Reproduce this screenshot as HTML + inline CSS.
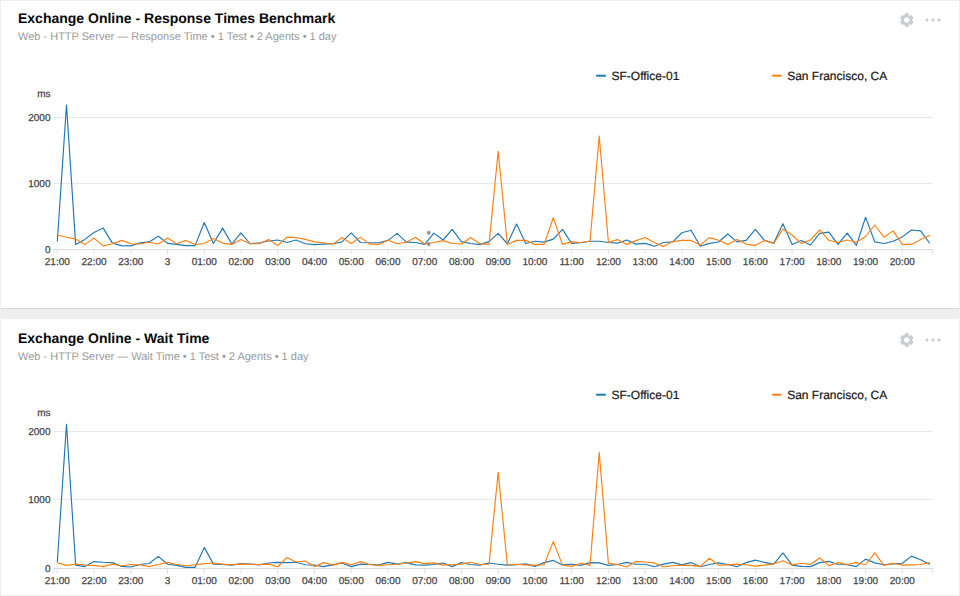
<!DOCTYPE html>
<html><head><meta charset="utf-8"><title>Dashboard</title>
<style>
html,body{margin:0;padding:0}
body{width:960px;height:596px;background:#eeeeee;position:relative;overflow:hidden;font-family:"Liberation Sans",sans-serif}
.p{position:absolute;left:1px;width:958px;background:#fff}
#p1{top:1px;height:307px;border-bottom:1px solid #d9d9d9}
#p2{top:319px;height:276px}
svg{position:absolute;left:0;top:0}
text{font-family:"Liberation Sans",sans-serif;text-rendering:geometricPrecision}
.title{font-size:14px;font-weight:bold;fill:#080808}
.sub{font-size:11px;fill:#999}
.tick{font-size:10px;fill:#444;stroke:#444;stroke-width:.25px}
.leg{font-size:12px;fill:#151515;stroke:#151515;stroke-width:.2px}
.grid{stroke:#e6e6e6;stroke-width:1}
.axis{stroke:#dadada;stroke-width:1;fill:none}
.tk{stroke:#e0e0e0;stroke-width:1;fill:none}
.ln{fill:none;stroke-width:1.15;stroke-linejoin:round}
</style></head><body>
<div class="p" id="p1"></div>
<div class="p" id="p2"></div>
<svg width="960" height="596" viewBox="0 0 960 596">
<text x="18" y="23.00" class="title">Exchange Online - Response Times Benchmark</text>
<text x="18" y="40.00" class="sub">Web - HTTP Server — Response Time • 1 Test • 2 Agents • 1 day</text>
<g transform="translate(906.80,20.00)" fill="#c6ccd1"><path fill-rule="evenodd" d="M-2.06,-4.88L-1.87,-6.75L1.87,-6.75L2.06,-4.88L3.20,-4.23L4.91,-4.99L6.78,-1.76L5.26,-0.65L5.26,0.65L6.78,1.76L4.91,4.99L3.20,4.23L2.06,4.88L1.87,6.75L-1.87,6.75L-2.06,4.88L-3.20,4.23L-4.91,4.99L-6.78,1.76L-5.26,0.65L-5.26,-0.65L-6.78,-1.76L-4.91,-4.99L-3.20,-4.23ZM2.70,0A2.70,2.70 0 1,0 -2.70,0A2.70,2.70 0 1,0 2.70,0Z"/></g>
<circle cx="927.00" cy="20.00" r="1.5" fill="#c6cacd"/>
<circle cx="933.00" cy="20.00" r="1.5" fill="#c6cacd"/>
<circle cx="939.00" cy="20.00" r="1.5" fill="#c6cacd"/>
<line x1="54" x2="932.7" y1="183.40" y2="183.40" class="grid"/>
<line x1="54" x2="932.7" y1="117.40" y2="117.40" class="grid"/>
<path d="M53.3,249.50H933.2" class="axis"/>
<path d="M53.8,249.50V254.50M932.7,249.50V254.50" class="tk"/>
<line x1="57.30" x2="57.30" y1="249.50" y2="254.50" class="tk"/>
<text x="57.30" y="265.10" class="tick" text-anchor="middle">21:00</text>
<line x1="94.04" x2="94.04" y1="249.50" y2="254.50" class="tk"/>
<text x="94.04" y="265.10" class="tick" text-anchor="middle">22:00</text>
<line x1="130.78" x2="130.78" y1="249.50" y2="254.50" class="tk"/>
<text x="130.78" y="265.10" class="tick" text-anchor="middle">23:00</text>
<line x1="167.52" x2="167.52" y1="249.50" y2="254.50" class="tk"/>
<text x="167.52" y="265.10" class="tick" text-anchor="middle">3</text>
<line x1="204.26" x2="204.26" y1="249.50" y2="254.50" class="tk"/>
<text x="204.26" y="265.10" class="tick" text-anchor="middle">01:00</text>
<line x1="241.00" x2="241.00" y1="249.50" y2="254.50" class="tk"/>
<text x="241.00" y="265.10" class="tick" text-anchor="middle">02:00</text>
<line x1="277.74" x2="277.74" y1="249.50" y2="254.50" class="tk"/>
<text x="277.74" y="265.10" class="tick" text-anchor="middle">03:00</text>
<line x1="314.48" x2="314.48" y1="249.50" y2="254.50" class="tk"/>
<text x="314.48" y="265.10" class="tick" text-anchor="middle">04:00</text>
<line x1="351.22" x2="351.22" y1="249.50" y2="254.50" class="tk"/>
<text x="351.22" y="265.10" class="tick" text-anchor="middle">05:00</text>
<line x1="387.96" x2="387.96" y1="249.50" y2="254.50" class="tk"/>
<text x="387.96" y="265.10" class="tick" text-anchor="middle">06:00</text>
<line x1="424.70" x2="424.70" y1="249.50" y2="254.50" class="tk"/>
<text x="424.70" y="265.10" class="tick" text-anchor="middle">07:00</text>
<line x1="461.44" x2="461.44" y1="249.50" y2="254.50" class="tk"/>
<text x="461.44" y="265.10" class="tick" text-anchor="middle">08:00</text>
<line x1="498.18" x2="498.18" y1="249.50" y2="254.50" class="tk"/>
<text x="498.18" y="265.10" class="tick" text-anchor="middle">09:00</text>
<line x1="534.92" x2="534.92" y1="249.50" y2="254.50" class="tk"/>
<text x="534.92" y="265.10" class="tick" text-anchor="middle">10:00</text>
<line x1="571.66" x2="571.66" y1="249.50" y2="254.50" class="tk"/>
<text x="571.66" y="265.10" class="tick" text-anchor="middle">11:00</text>
<line x1="608.40" x2="608.40" y1="249.50" y2="254.50" class="tk"/>
<text x="608.40" y="265.10" class="tick" text-anchor="middle">12:00</text>
<line x1="645.14" x2="645.14" y1="249.50" y2="254.50" class="tk"/>
<text x="645.14" y="265.10" class="tick" text-anchor="middle">13:00</text>
<line x1="681.88" x2="681.88" y1="249.50" y2="254.50" class="tk"/>
<text x="681.88" y="265.10" class="tick" text-anchor="middle">14:00</text>
<line x1="718.62" x2="718.62" y1="249.50" y2="254.50" class="tk"/>
<text x="718.62" y="265.10" class="tick" text-anchor="middle">15:00</text>
<line x1="755.36" x2="755.36" y1="249.50" y2="254.50" class="tk"/>
<text x="755.36" y="265.10" class="tick" text-anchor="middle">16:00</text>
<line x1="792.10" x2="792.10" y1="249.50" y2="254.50" class="tk"/>
<text x="792.10" y="265.10" class="tick" text-anchor="middle">17:00</text>
<line x1="828.84" x2="828.84" y1="249.50" y2="254.50" class="tk"/>
<text x="828.84" y="265.10" class="tick" text-anchor="middle">18:00</text>
<line x1="865.58" x2="865.58" y1="249.50" y2="254.50" class="tk"/>
<text x="865.58" y="265.10" class="tick" text-anchor="middle">19:00</text>
<line x1="902.32" x2="902.32" y1="249.50" y2="254.50" class="tk"/>
<text x="902.32" y="265.10" class="tick" text-anchor="middle">20:00</text>
<text x="50.5" y="252.70" class="tick" text-anchor="end">0</text>
<text x="50.5" y="186.60" class="tick" text-anchor="end">1000</text>
<text x="50.5" y="120.60" class="tick" text-anchor="end">2000</text>
<text x="50.5" y="97.20" class="tick" text-anchor="end">ms</text>
<path d="M57.30,241.50L66.48,105.10L75.67,244.60L84.85,239.40L94.04,232.50L103.22,228.10L112.41,243.10L121.59,245.60L130.78,245.90L139.97,242.75L149.15,241.90L158.34,236.25L167.52,243.40L176.70,244.40L185.89,245.60L195.07,245.60L204.26,222.50L213.44,243.50L222.63,228.10L231.81,244.10L241.00,232.90L250.19,243.75L259.37,242.75L268.56,241.00L277.74,240.00L286.93,242.50L296.11,240.00L305.30,243.75L314.48,244.60L323.67,244.10L332.85,243.75L342.04,241.90L351.22,232.90L360.41,242.50L369.59,242.75L378.78,242.75L387.96,240.40L397.15,233.40L406.33,242.10L415.52,242.50L424.70,244.40L433.89,233.10L443.07,240.00L452.26,229.40L461.44,241.60L470.63,243.50L479.81,244.60L489.00,241.60L498.18,233.40L507.37,243.75L516.55,224.00L525.74,243.50L534.92,241.25L544.11,242.10L553.29,239.10L562.48,229.40L571.66,243.40L580.85,242.75L590.03,241.25L599.22,241.25L608.40,242.50L617.59,243.10L626.77,240.00L635.96,244.10L645.14,243.40L654.32,246.25L663.51,242.50L672.69,241.90L681.88,232.75L691.06,230.25L700.25,246.25L709.43,243.40L718.62,242.00L727.80,234.00L736.99,241.90L746.17,240.40L755.36,229.40L764.54,240.40L773.73,243.10L782.91,223.75L792.10,244.60L801.28,240.40L810.47,245.00L819.65,233.40L828.84,232.10L838.02,244.40L847.21,233.10L856.39,245.40L865.58,217.25L874.76,241.90L883.95,243.50L893.13,241.25L902.32,236.90L911.50,230.00L920.69,230.90L929.88,243.50" class="ln" stroke="#1f77b4"/>
<path d="M57.30,235.00L66.48,237.25L75.67,239.10L84.85,244.60L94.04,238.10L103.22,245.90L112.41,243.75L121.59,240.40L130.78,243.75L139.97,244.00L149.15,242.25L158.34,244.00L167.52,238.00L176.70,243.75L185.89,240.40L195.07,244.60L204.26,243.50L213.44,238.40L222.63,243.10L231.81,244.40L241.00,239.40L250.19,243.75L259.37,243.75L268.56,239.40L277.74,245.50L286.93,237.10L296.11,237.50L305.30,239.40L314.48,241.90L323.67,242.75L332.85,244.40L342.04,237.50L351.22,243.50L360.41,237.10L369.59,244.10L378.78,244.40L387.96,240.20L397.15,243.75L406.33,242.25L415.52,237.25L424.70,244.00L433.89,242.50L443.07,240.60L452.26,243.50L461.44,244.00L470.63,237.50L479.81,243.75L489.00,244.40L498.18,151.20L507.37,244.40L516.55,240.40L525.74,240.40L534.92,244.40L544.11,244.40L553.29,217.75L562.48,244.40L571.66,241.90L580.85,242.50L590.03,241.00L599.22,136.10L608.40,242.25L617.59,239.60L626.77,244.40L635.96,240.60L645.14,237.50L654.32,242.50L663.51,246.60L672.69,241.60L681.88,240.40L691.06,240.40L700.25,245.00L709.43,237.60L718.62,240.30L727.80,244.40L736.99,239.60L746.17,244.10L755.36,245.40L764.54,240.40L773.73,243.50L782.91,229.00L792.10,235.00L801.28,243.40L810.47,240.00L819.65,229.80L828.84,240.30L838.02,242.50L847.21,240.00L856.39,242.25L865.58,236.50L874.76,225.00L883.95,237.25L893.13,230.90L902.32,244.40L911.50,244.40L920.69,239.60L929.88,235.25" class="ln" stroke="#ff7f0e"/>
<circle cx="428.75" cy="232.75" r="1.9" fill="#939393"/>
<circle cx="428.75" cy="244.00" r="1.9" fill="#939393"/>
<line x1="596.2" x2="605.8" y1="75.70" y2="75.70" stroke="#1f77b4" stroke-width="2"/>
<text x="611.5" y="79.70" class="leg">SF-Office-01</text>
<line x1="772.2" x2="781.5" y1="75.70" y2="75.70" stroke="#ff7f0e" stroke-width="2"/>
<text x="787.2" y="79.70" class="leg">San Francisco, CA</text>
<text x="18" y="343.00" class="title">Exchange Online - Wait Time</text>
<text x="18" y="360.00" class="sub">Web - HTTP Server — Wait Time • 1 Test • 2 Agents • 1 day</text>
<g transform="translate(906.80,340.00)" fill="#c6ccd1"><path fill-rule="evenodd" d="M-2.06,-4.88L-1.87,-6.75L1.87,-6.75L2.06,-4.88L3.20,-4.23L4.91,-4.99L6.78,-1.76L5.26,-0.65L5.26,0.65L6.78,1.76L4.91,4.99L3.20,4.23L2.06,4.88L1.87,6.75L-1.87,6.75L-2.06,4.88L-3.20,4.23L-4.91,4.99L-6.78,1.76L-5.26,0.65L-5.26,-0.65L-6.78,-1.76L-4.91,-4.99L-3.20,-4.23ZM2.70,0A2.70,2.70 0 1,0 -2.70,0A2.70,2.70 0 1,0 2.70,0Z"/></g>
<circle cx="927.00" cy="340.00" r="1.5" fill="#c6cacd"/>
<circle cx="933.00" cy="340.00" r="1.5" fill="#c6cacd"/>
<circle cx="939.00" cy="340.00" r="1.5" fill="#c6cacd"/>
<line x1="54" x2="932.7" y1="499.45" y2="499.45" class="grid"/>
<line x1="54" x2="932.7" y1="431.40" y2="431.40" class="grid"/>
<path d="M53.3,568.50H933.2" class="axis"/>
<path d="M53.8,568.50V573.50M932.7,568.50V573.50" class="tk"/>
<line x1="57.30" x2="57.30" y1="568.50" y2="573.50" class="tk"/>
<text x="57.30" y="584.10" class="tick" text-anchor="middle">21:00</text>
<line x1="94.04" x2="94.04" y1="568.50" y2="573.50" class="tk"/>
<text x="94.04" y="584.10" class="tick" text-anchor="middle">22:00</text>
<line x1="130.78" x2="130.78" y1="568.50" y2="573.50" class="tk"/>
<text x="130.78" y="584.10" class="tick" text-anchor="middle">23:00</text>
<line x1="167.52" x2="167.52" y1="568.50" y2="573.50" class="tk"/>
<text x="167.52" y="584.10" class="tick" text-anchor="middle">3</text>
<line x1="204.26" x2="204.26" y1="568.50" y2="573.50" class="tk"/>
<text x="204.26" y="584.10" class="tick" text-anchor="middle">01:00</text>
<line x1="241.00" x2="241.00" y1="568.50" y2="573.50" class="tk"/>
<text x="241.00" y="584.10" class="tick" text-anchor="middle">02:00</text>
<line x1="277.74" x2="277.74" y1="568.50" y2="573.50" class="tk"/>
<text x="277.74" y="584.10" class="tick" text-anchor="middle">03:00</text>
<line x1="314.48" x2="314.48" y1="568.50" y2="573.50" class="tk"/>
<text x="314.48" y="584.10" class="tick" text-anchor="middle">04:00</text>
<line x1="351.22" x2="351.22" y1="568.50" y2="573.50" class="tk"/>
<text x="351.22" y="584.10" class="tick" text-anchor="middle">05:00</text>
<line x1="387.96" x2="387.96" y1="568.50" y2="573.50" class="tk"/>
<text x="387.96" y="584.10" class="tick" text-anchor="middle">06:00</text>
<line x1="424.70" x2="424.70" y1="568.50" y2="573.50" class="tk"/>
<text x="424.70" y="584.10" class="tick" text-anchor="middle">07:00</text>
<line x1="461.44" x2="461.44" y1="568.50" y2="573.50" class="tk"/>
<text x="461.44" y="584.10" class="tick" text-anchor="middle">08:00</text>
<line x1="498.18" x2="498.18" y1="568.50" y2="573.50" class="tk"/>
<text x="498.18" y="584.10" class="tick" text-anchor="middle">09:00</text>
<line x1="534.92" x2="534.92" y1="568.50" y2="573.50" class="tk"/>
<text x="534.92" y="584.10" class="tick" text-anchor="middle">10:00</text>
<line x1="571.66" x2="571.66" y1="568.50" y2="573.50" class="tk"/>
<text x="571.66" y="584.10" class="tick" text-anchor="middle">11:00</text>
<line x1="608.40" x2="608.40" y1="568.50" y2="573.50" class="tk"/>
<text x="608.40" y="584.10" class="tick" text-anchor="middle">12:00</text>
<line x1="645.14" x2="645.14" y1="568.50" y2="573.50" class="tk"/>
<text x="645.14" y="584.10" class="tick" text-anchor="middle">13:00</text>
<line x1="681.88" x2="681.88" y1="568.50" y2="573.50" class="tk"/>
<text x="681.88" y="584.10" class="tick" text-anchor="middle">14:00</text>
<line x1="718.62" x2="718.62" y1="568.50" y2="573.50" class="tk"/>
<text x="718.62" y="584.10" class="tick" text-anchor="middle">15:00</text>
<line x1="755.36" x2="755.36" y1="568.50" y2="573.50" class="tk"/>
<text x="755.36" y="584.10" class="tick" text-anchor="middle">16:00</text>
<line x1="792.10" x2="792.10" y1="568.50" y2="573.50" class="tk"/>
<text x="792.10" y="584.10" class="tick" text-anchor="middle">17:00</text>
<line x1="828.84" x2="828.84" y1="568.50" y2="573.50" class="tk"/>
<text x="828.84" y="584.10" class="tick" text-anchor="middle">18:00</text>
<line x1="865.58" x2="865.58" y1="568.50" y2="573.50" class="tk"/>
<text x="865.58" y="584.10" class="tick" text-anchor="middle">19:00</text>
<line x1="902.32" x2="902.32" y1="568.50" y2="573.50" class="tk"/>
<text x="902.32" y="584.10" class="tick" text-anchor="middle">20:00</text>
<text x="50.5" y="571.70" class="tick" text-anchor="end">0</text>
<text x="50.5" y="502.65" class="tick" text-anchor="end">1000</text>
<text x="50.5" y="434.60" class="tick" text-anchor="end">2000</text>
<text x="50.5" y="416.20" class="tick" text-anchor="end">ms</text>
<path d="M57.30,562.00L66.48,424.20L75.67,565.10L84.85,566.60L94.04,561.60L103.22,562.25L112.41,562.60L121.59,566.40L130.78,567.00L139.97,564.50L149.15,563.50L158.34,556.40L167.52,564.25L176.70,565.40L185.89,567.40L195.07,567.40L204.26,547.40L213.44,564.10L222.63,564.50L231.81,565.10L241.00,563.60L250.19,564.10L259.37,564.90L268.56,563.00L277.74,562.40L286.93,562.60L296.11,562.25L305.30,564.75L314.48,565.10L323.67,566.60L332.85,564.90L342.04,563.00L351.22,566.60L360.41,564.10L369.59,564.50L378.78,565.10L387.96,562.40L397.15,564.10L406.33,562.60L415.52,564.90L424.70,565.10L433.89,564.50L443.07,563.00L452.26,566.60L461.44,562.60L470.63,564.50L479.81,565.10L489.00,563.00L498.18,564.25L507.37,565.10L516.55,564.75L525.74,563.90L534.92,566.40L544.11,562.60L553.29,560.40L562.48,564.90L571.66,564.25L580.85,565.40L590.03,562.60L599.22,562.90L608.40,565.40L617.59,564.50L626.77,562.40L635.96,564.25L645.14,564.25L654.32,566.75L663.51,564.10L672.69,562.40L681.88,564.90L691.06,562.60L700.25,566.75L709.43,564.50L718.62,562.90L727.80,564.50L736.99,566.75L746.17,562.60L755.36,560.10L764.54,562.40L773.73,564.10L782.91,552.90L792.10,565.10L801.28,566.40L810.47,566.60L819.65,562.60L828.84,561.40L838.02,564.50L847.21,564.75L856.39,566.60L865.58,559.10L874.76,562.90L883.95,564.75L893.13,563.90L902.32,563.25L911.50,556.10L920.69,559.75L929.88,564.50" class="ln" stroke="#1f77b4"/>
<path d="M57.30,562.60L66.48,565.40L75.67,564.10L84.85,565.10L94.04,565.40L103.22,566.60L112.41,564.10L121.59,565.75L130.78,564.50L139.97,564.75L149.15,566.60L158.34,564.50L167.52,562.40L176.70,564.50L185.89,565.75L195.07,564.75L204.26,563.60L213.44,563.00L222.63,564.10L231.81,564.75L241.00,563.90L250.19,564.25L259.37,564.50L268.56,564.10L277.74,566.75L286.93,557.40L296.11,562.00L305.30,561.00L314.48,566.60L323.67,562.60L332.85,565.10L342.04,562.40L351.22,564.75L360.41,561.60L369.59,564.50L378.78,565.40L387.96,564.75L397.15,564.25L406.33,563.00L415.52,561.60L424.70,563.60L433.89,562.90L443.07,565.10L452.26,564.50L461.44,564.10L470.63,562.25L479.81,564.50L489.00,564.25L498.18,472.30L507.37,565.10L516.55,564.25L525.74,564.90L534.92,565.10L544.11,564.75L553.29,541.60L562.48,565.10L571.66,566.40L580.85,563.25L590.03,565.40L599.22,452.40L608.40,563.40L617.59,564.50L626.77,567.00L635.96,561.40L645.14,562.00L654.32,562.90L663.51,567.00L672.69,565.75L681.88,565.40L691.06,565.40L700.25,566.40L709.43,558.20L718.62,565.10L727.80,564.90L736.99,564.10L746.17,564.75L755.36,566.10L764.54,565.10L773.73,563.90L782.91,560.75L792.10,564.90L801.28,563.25L810.47,564.50L819.65,558.00L828.84,565.60L838.02,562.60L847.21,564.50L856.39,562.60L865.58,564.75L874.76,552.90L883.95,565.40L893.13,563.25L902.32,565.10L911.50,564.90L920.69,564.50L929.88,562.60" class="ln" stroke="#ff7f0e"/>
<line x1="596.2" x2="605.8" y1="394.70" y2="394.70" stroke="#1f77b4" stroke-width="2"/>
<text x="611.5" y="398.70" class="leg">SF-Office-01</text>
<line x1="772.2" x2="781.5" y1="394.70" y2="394.70" stroke="#ff7f0e" stroke-width="2"/>
<text x="787.2" y="398.70" class="leg">San Francisco, CA</text>
</svg>
</body></html>
